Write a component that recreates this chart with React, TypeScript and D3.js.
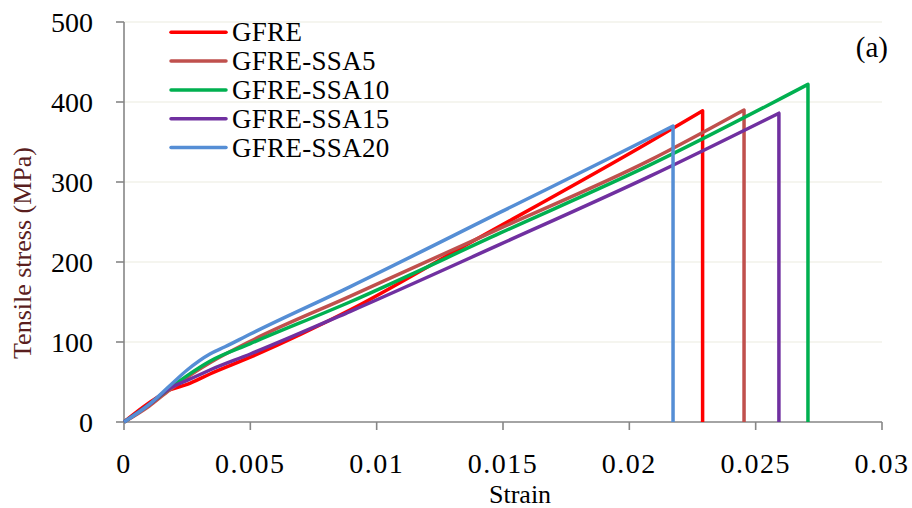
import React from "react";
import * as d3 from "d3";

const seriesNames = ["GFRE", "GFRE-SSA5", "GFRE-SSA10", "GFRE-SSA15", "GFRE-SSA20"];
const seriesColors = ["#ff0000", "#c0504d", "#00b050", "#7030a0", "#558ed5"];

const gfreStrain = [0, 0.001, 0.0018, 0.0025, 0.0034, 0.005, 0.00894, 0.0133, 0.0208, 0.0229];
const gfreStress = [0, 24, 40, 47, 60, 81, 140, 217, 350, 389];

const ssa5Strain = [0, 0.001, 0.0018, 0.0025, 0.0034, 0.005, 0.00894, 0.01488, 0.0208, 0.02454];
const ssa5Stress = [0, 20, 40, 56, 74, 101, 157, 242, 327, 390];

const ssa10Strain = [0, 0.001, 0.0018, 0.0025, 0.0034, 0.005, 0.00894, 0.01488, 0.0208, 0.02707];
const ssa10Stress = [0, 22, 42, 58, 76, 98, 150, 236, 321, 422];

const ssa15Strain = [0, 0.001, 0.0018, 0.0025, 0.0034, 0.005, 0.00894, 0.01488, 0.0208, 0.02592];
const ssa15Stress = [0, 22, 42, 52, 65, 85, 138, 222, 307, 386];

const ssa20Strain = [0, 0.001, 0.0018, 0.0025, 0.0034, 0.004, 0.005, 0.00894, 0.01488, 0.0208, 0.02173];
const ssa20Stress = [0, 22, 45, 65, 85, 94, 110, 169, 262, 355, 370];

const xTicks = [0, 0.005, 0.01, 0.015, 0.02, 0.025, 0.03];
const xTickLabels = ["0", "0.005", "0.01", "0.015", "0.02", "0.025", "0.03"];
const yTicks = [0, 100, 200, 300, 400, 500];

const allStrain = [gfreStrain, ssa5Strain, ssa10Strain, ssa15Strain, ssa20Strain];
const allStress = [gfreStress, ssa5Stress, ssa10Stress, ssa15Stress, ssa20Stress];

export default function App() {
  const W = 912, H = 508;
  const x = d3.scaleLinear().domain([0, 0.03]).range([124, 882]);
  const y = d3.scaleLinear().domain([0, 500]).range([422, 22]);
  const font = "'Liberation Serif', 'Times New Roman', serif";
  const axisColor = "#868686";
  const line = d3
    .line<[number, number]>()
    .x((d) => x(d[0]))
    .y((d) => y(d[1]))
    .curve(d3.curveMonotoneX);

  const paths = allStrain.map((xs, i) => {
    const pts: [number, number][] = xs.map((s, j) => [s, allStress[i][j]]);
    const last = xs[xs.length - 1];
    return (line(pts) || "") + `L${x(last)},${y(0)}`;
  });

  return (
    <svg width={W} height={H} style={{ position: "absolute", left: 0, top: 0, background: "#fff" }}>
      {yTicks.filter((t) => t > 0).map((t) => (
        <line key={"g" + t} x1={x(0)} x2={x(0.03)} y1={y(t)} y2={y(t)} stroke="#ecebe0" strokeWidth={1.2} />
      ))}
      <line x1={x(0)} x2={x(0)} y1={y(0)} y2={y(500)} stroke={axisColor} strokeWidth={1.6} />
      <line x1={x(0)} x2={x(0.03)} y1={y(0)} y2={y(0)} stroke={axisColor} strokeWidth={1.6} />
      {yTicks.map((t) => (
        <g key={"yt" + t}>
          <line x1={x(0) - 8} x2={x(0)} y1={y(t)} y2={y(t)} stroke={axisColor} strokeWidth={1.6} />
          <text x={93} y={y(t)} dy="0.34em" textAnchor="end" fontFamily={font} fontSize={28} fill="#000">
            {t}
          </text>
        </g>
      ))}
      {xTicks.map((t, i) => (
        <g key={"xt" + i}>
          <line x1={x(t)} x2={x(t)} y1={y(0)} y2={y(0) + 8} stroke={axisColor} strokeWidth={1.6} />
          <text x={x(t)} y={473} textAnchor="middle" fontFamily={font} fontSize={28} letterSpacing={1.5} fill="#000">
            {xTickLabels[i]}
          </text>
        </g>
      ))}
      {paths.map((p, i) => (
        <path key={"s" + i} d={p} fill="none" stroke={seriesColors[i]} strokeWidth={3.5} strokeLinejoin="round" />
      ))}
      {seriesNames.map((n, i) => {
        const ly = 32.3 + i * 28.8;
        return (
          <g key={"l" + i}>
            <line x1={171} x2={226} y1={ly} y2={ly} stroke={seriesColors[i]} strokeWidth={3.5} strokeLinecap="round" />
            <text x={232} y={ly} dy="0.34em" fontFamily={font} fontSize={27} letterSpacing={0.3} fill="#000">
              {n}
            </text>
          </g>
        );
      })}
      <text x={888} y={57} textAnchor="end" fontFamily={font} fontSize={29} fill="#000">
        (a)
      </text>
      <text x={489} y={503} fontFamily={font} fontSize={26} fill="#000">
        Strain
      </text>
      <text
        transform={`translate(31,253) rotate(-90)`}
        textAnchor="middle"
        fontFamily={font}
        fontSize={26}
        fill="#5a1e1e"
      >
        Tensile stress (MPa)
      </text>
    </svg>
  );
}
